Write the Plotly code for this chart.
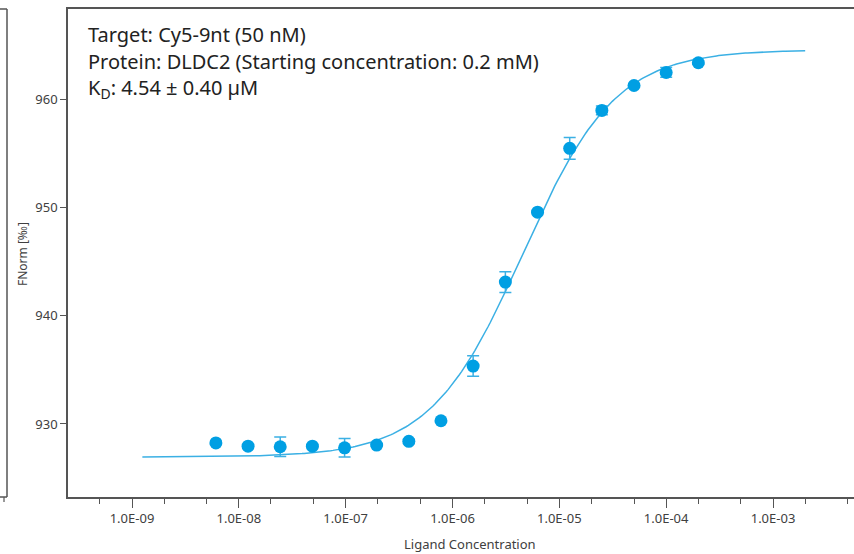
import numpy as np
import plotly.graph_objects as go

# ---- data ----
ligand_conc = [6.1e-9, 1.22e-8, 2.44e-8, 4.88e-8, 9.77e-8, 1.95e-7, 3.9e-7, 7.8e-7,
               1.56e-6, 3.125e-6, 6.25e-6, 1.25e-5, 2.5e-5, 5e-5, 1e-4, 2e-4]
fnorm = [928.25, 927.95, 927.9, 927.95, 927.8, 928.05, 928.4, 930.3,
         935.35, 943.1, 949.55, 955.45, 958.95, 961.25, 962.45, 963.35]
fnorm_err = [0.15, 0.1, 0.9, 0.1, 0.85, 0.1, 0.2, 0.1,
             0.95, 0.95, 0.1, 1.0, 0.4, 0.15, 0.45, 0.15]

# fit parameters (KD model)
kd = 4.54e-6
target_conc = 50e-9
unbound = 926.95
bound = 964.55
fit_start, fit_end = 1.25e-9, 2.0e-3

x_tickvals = [1e-9, 1e-8, 1e-7, 1e-6, 1e-5, 1e-4, 1e-3]
x_ticktext = ["1.0E-09", "1.0E-08", "1.0E-07", "1.0E-06", "1.0E-05", "1.0E-04", "1.0E-03"]
y_tickvals = [930, 940, 950, 960]

info_lines = ["Target: Cy5-9nt (50 nM)",
              "Protein: DLDC2 (Starting concentration: 0.2 mM)",
              "K<sub>D</sub>: 4.54 ± 0.40 µM"]

# ---- fit curve from the KD model ----
c = np.logspace(np.log10(fit_start), np.log10(fit_end), 300)
s = c + target_conc + kd
frac = (s - np.sqrt(s * s - 4 * c * target_conc)) / (2 * target_conc)
fit_y = unbound + (bound - unbound) * frac

line_col = "#3BB0E4"
mark_col = "#009FE3"
axis_col = "#555555"
text_col = "#404040"

fig = go.Figure()
fig.add_trace(go.Scatter(x=c, y=fit_y, mode="lines",
                         line=dict(color=line_col, width=1.5), hoverinfo="skip"))
fig.add_trace(go.Scatter(x=ligand_conc, y=fnorm, mode="markers",
                         marker=dict(color=mark_col, size=13),
                         error_y=dict(type="data", array=fnorm_err, color=line_col,
                                      thickness=1.5, width=6)))

# plot area: left 68, right 854, top 9, bottom 497
L, R, T, B = 68, 854, 9, 497
W, H = 854, 554

def px(xp):
    return (xp - L) / (R - L)

def py(yp):
    return (B - yp) / (B - T)

fig.update_layout(
    width=W, height=H,
    margin=dict(l=L, r=W - R, t=T, b=H - B, pad=0),
    paper_bgcolor="white", plot_bgcolor="white",
    showlegend=False,
    font=dict(family="Noto Sans", size=12, color=text_col),
)
fig.update_xaxes(
    type="log", range=[-9.599, -2.242],
    tickvals=x_tickvals, ticktext=x_ticktext,
    ticks="outside", ticklen=9, tickwidth=1.2, tickcolor=axis_col,
    minor=dict(ticks="outside", ticklen=5, tickwidth=1, tickcolor=axis_col,
               showgrid=False),
    showline=True, linecolor=axis_col, linewidth=1.5, mirror=True,
    showgrid=False, zeroline=False, automargin=False,
    tickfont=dict(family="Noto Sans", size=13, color=text_col),
)
fig.update_yaxes(
    range=[923.26, 968.31], tickvals=y_tickvals,
    ticks="outside", ticklen=6, tickwidth=1.2, tickcolor=axis_col,
    showline=True, linecolor=axis_col, linewidth=1.5,
    showgrid=False, zeroline=False, automargin=False,
    tickfont=dict(family="Noto Sans", size=13, color=text_col),
)

annotations = []
for i, (t, yp) in enumerate(zip(info_lines, [34, 61, 88])):
    annotations.append(dict(xref="paper", yref="paper", x=px(86), y=py(yp),
                            xanchor="left", yanchor="middle", text=t, showarrow=False,
                            font=dict(family="Noto Sans", size=20, color="#222222")))
annotations.append(dict(xref="paper", yref="paper", x=px(22), y=py(254),
                        xanchor="center", yanchor="middle", text="FNorm [‰]",
                        textangle=-90, showarrow=False,
                        font=dict(family="Noto Sans", size=12, color=text_col)))
annotations.append(dict(xref="paper", yref="paper", x=px(470), y=py(544),
                        xanchor="center", yanchor="middle", text="Ligand Concentration",
                        showarrow=False,
                        font=dict(family="Noto Sans", size=13, color=text_col)))
fig.update_layout(annotations=annotations)

# partial frame of neighbouring panel on the far left
fig.update_layout(shapes=[
    dict(type="line", xref="paper", yref="paper", x0=px(7), x1=px(7), y0=py(9), y1=py(497),
         line=dict(color=axis_col, width=1.5)),
    dict(type="line", xref="paper", yref="paper", x0=px(0), x1=px(7), y0=py(9), y1=py(9),
         line=dict(color=axis_col, width=1.5)),
    dict(type="line", xref="paper", yref="paper", x0=px(0), x1=px(7), y0=py(497), y1=py(497),
         line=dict(color=axis_col, width=1.5)),
    dict(type="line", xref="paper", yref="paper", x0=px(4), x1=px(4), y0=py(497), y1=py(502),
         line=dict(color=axis_col, width=1.2)),
])

fig.write_html("out.html", config={"displayModeBar": False},
               post_script="document.body.style.margin='0';document.body.style.overflow='hidden';")
